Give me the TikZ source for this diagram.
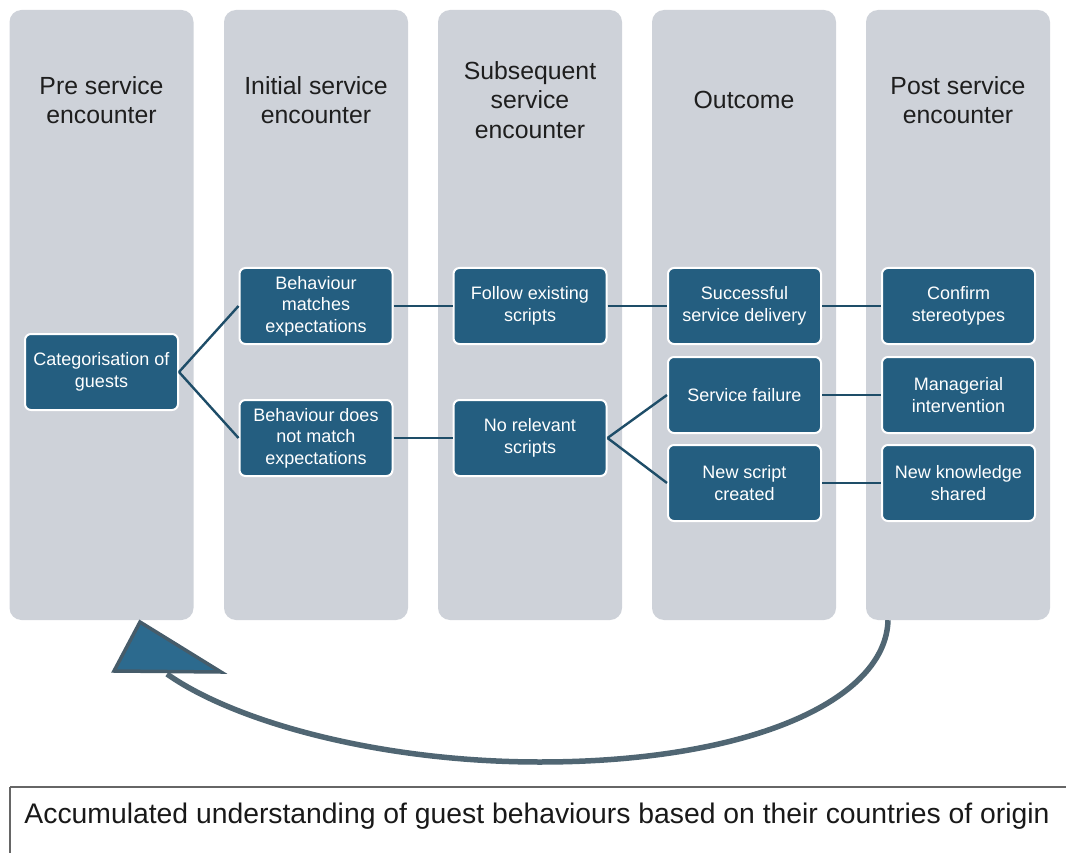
\documentclass[tikz,border=0pt]{standalone}
\usepackage{fontspec}
\setmainfont{Liberation Sans}
\definecolor{colgray}{RGB}{206,210,217}
\definecolor{boxblue}{RGB}{36,94,128}
\definecolor{linkblue}{RGB}{30,77,104}
\definecolor{headtext}{RGB}{30,30,30}
\definecolor{loopgray}{RGB}{80,102,115}
\definecolor{tipfill}{RGB}{44,106,142}
\definecolor{tipline}{RGB}{70,92,106}
\begin{document}
\begin{tikzpicture}[x=1pt,y=-1pt,
  column/.style={fill=colgray, rounded corners=12pt, minimum width=184pt,
    minimum height=610pt, inner sep=0pt},
  head/.style={align=center, text=headtext, font=\fontsize{24.8}{29.5}\selectfont},
  stage/.style={fill=boxblue, draw=white, line width=2pt, rounded corners=6pt,
    minimum width=153pt, minimum height=76pt, align=center, text=white,
    inner sep=2pt, font=\fontsize{18}{21.5}\selectfont},
  link/.style={draw=linkblue, line width=2.4pt}]
\useasboundingbox (0,0) rectangle (1066,853);

% phase columns
\node[column] (c1) at (101.5,315) {};
\node[column] (c2) at (316,315) {};
\node[column] (c3) at (530,315) {};
\node[column] (c4) at (744,315) {};
\node[column] (c5) at (958,315) {};

% column headings
\node[head] (h1) at (101.5,100) {Pre service\\encounter};
\node[head] (h2) at (316,100) {Initial service\\encounter};
\node[head] (h3) at (530,100) {Subsequent\\service\\encounter};
\node[head] (h4) at (744,100) {Outcome};
\node[head] (h5) at (958,100) {Post service\\encounter};

% stage boxes
\node[stage] (cat) at (101.5,372) {Categorisation of\\guests};
\node[stage] (bm)  at (316,306) {Behaviour\\matches\\expectations};
\node[stage] (bn)  at (316,438) {Behaviour does\\not match\\expectations};
\node[stage] (fe)  at (530,306) {Follow existing\\scripts};
\node[stage] (nr)  at (530,438) {No relevant\\scripts};
\node[stage] (ss)  at (744.5,306) {Successful\\service delivery};
\node[stage] (sf)  at (744.5,395) {Service failure};
\node[stage] (ns)  at (744.5,483) {New script\\created};
\node[stage] (cs)  at (958.5,306) {Confirm\\stereotypes};
\node[stage] (mi)  at (958.5,395) {Managerial\\intervention};
\node[stage] (nk)  at (958.5,483) {New knowledge\\shared};

% connectors
\draw[link] (cat.east) -- (bm.west);
\draw[link] (cat.east) -- (bn.west);
\draw[link] (bm) -- (fe);
\draw[link] (bn) -- (nr);
\draw[link] (fe) -- (ss);
\draw[link] (nr.east) -- (sf.west);
\draw[link] (nr.east) -- (ns.west);
\draw[link] (ss) -- (cs);
\draw[link] (sf) -- (mi);
\draw[link] (ns) -- (nk);

% feedback loop back to the first phase
\coordinate (loopend) at (167,674);
\draw[draw=loopgray, line width=5.5pt]
  ([xshift=-70pt]c5.south) .. controls (886,700) and (750,762) .. (540,762)
  .. controls (380,762) and (235,722) .. (loopend);
\draw[draw=tipline, fill=tipfill, line width=3.5pt, line join=miter]
  (140,622) -- (114,671) -- (221,672) -- cycle;

% caption box
\draw[draw=gray!80!black, line width=1.2pt] (10,787) -- (1075,787);
\draw[draw=gray!80!black, line width=1.2pt] (10,787) -- (10,860);
\node[text=black!90, inner sep=0pt, anchor=base] (cap) at (537,823)
  {\resizebox{1025pt}{!}{\fontsize{24}{28}\selectfont Accumulated understanding of guest behaviours based on their countries of origin}};
\end{tikzpicture}
\end{document}
